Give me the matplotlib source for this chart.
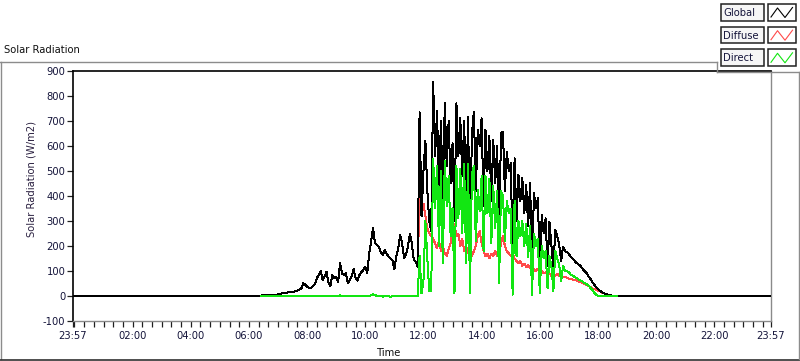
import numpy as np
import matplotlib
matplotlib.use('Agg')
import matplotlib.pyplot as plt
from matplotlib.lines import Line2D
from matplotlib.patches import Rectangle

plt.rcParams['font.family'] = ['DejaVu Sans']
plt.rcParams['font.stretch'] = 'condensed'

# ---------------- data (W/m2), 4-minute samples ----------------
day_start_min = 6 * 60 + 24      # 06:24
step_min = 4

# 06:24 .. 11:48
global_morning = [0, 4, 4, 4, 4, 5, 5, 5, 6, 6,
                  8, 10, 11, 12, 14, 16, 18, 17, 20, 22, 26, 30, 51, 45, 37,
                  33, 31, 40, 48, 71, 85, 100, 64, 78, 97, 53, 40, 84, 70, 77,
                  57, 131, 90, 84, 91, 51, 64, 80, 107, 71, 61, 84, 95, 104, 117,
                  91, 171, 217, 271, 211, 205, 197, 175, 164, 184, 170, 157, 150, 144, 107,
                  157, 190, 244, 211, 151, 164, 200, 248, 211, 144, 137, 117]
diffuse_morning = [0, 4, 4, 4, 4, 5, 5, 5, 6, 6,
                   8, 10, 11, 12, 14, 16, 18, 17, 20, 22, 26, 30, 51, 45, 37,
                   33, 31, 40, 48, 71, 85, 100, 64, 78, 97, 53, 40, 84, 70, 77,
                   57, 131, 90, 84, 91, 51, 64, 80, 107, 71, 61, 84, 95, 104, 117,
                   91, 171, 217, 271, 211, 205, 197, 175, 164, 184, 170, 157, 150, 144, 107,
                   157, 190, 244, 211, 151, 164, 200, 248, 211, 144, 137, 117]
direct_morning = [0, 0, 0, 0, 0, 0, 0, 0, 0, 0,
                  0, 0, 0, 0, 0, 0, 0, 0, 0, 0, 0, 0, 0, 0, 0,
                  0, 0, 0, 0, 0, 0, 0, 0, 0, 0, 0, 0, 0, 0, 0,
                  0, 3, 0, 0, 0, 0, 0, 0, 0, 0, 0, 0, 0, 0, 0,
                  0, 0, 4, 7, 4, 0, -2, 0, -3, 0, -2, 0, -3, 0, -2,
                  0, 0, 2, 0, -2, 0, 0, 0, 2, 0, -1, 0]

# 11:52 .. 17:00
global_midday = [735, 320, 500, 620, 420, 300, 260, 855, 560, 740, 420, 700, 380, 771, 520, 700, 450,
                 611, 300, 771, 560, 711, 480, 700, 330, 717, 220, 650, 737, 420, 664, 600,
                 711, 360, 664, 500, 640, 380, 624, 450, 600, 240, 651, 657, 420, 577, 500,
                 531, 180, 551, 300, 484, 380, 471, 330, 444, 280, 451, 130, 411, 350, 391,
                 110, 324, 250, 311, 120, 297, 200, 110, 264, 240, 204, 140, 197, 180, 175,
                 168]
diffuse_midday = [390, 330, 370, 320, 270, 250, 240, 230, 210, 190, 220, 180, 200, 170, 160, 190, 210,
                  260, 290, 240, 250, 200, 230, 180, 200, 170, 190, 160, 180, 200, 240, 260,
                  210, 180, 160, 170, 150, 170, 160, 180, 160, 170, 210, 240, 200, 180, 170,
                  160, 170, 150, 140, 130, 140, 120, 130, 115, 125, 110, 120, 105, 100, 110,
                  95, 100, 90, 95, 85, 90, 80, 85, 80, 90, 78, 82, 75, 78, 72,
                  70]
direct_midday = [160, 10, 60, 300, 150, 20, 20, 550, 350, 520, 200, 500, 130, 540, 360, 480, 240,
                 351, 10, 520, 310, 510, 250, 530, 130, 530, 10, 490, 520, 220, 424, 340,
                 480, 180, 480, 330, 470, 210, 440, 270, 420, 50, 420, 400, 220, 380, 330,
                 350, 5, 380, 160, 300, 240, 300, 200, 290, 155, 280, 5, 250, 200, 230,
                 10, 200, 150, 180, 30, 160, 120, 20, 180, 150, 126, 58, 120, 102, 100,
                 95]

# 17:04 .. 18:40
global_evening = [155, 150, 140, 132, 126, 120, 110, 100, 93, 80, 70, 57, 46, 35,
                  27, 21, 15, 11, 8, 5, 3, 2, 1, 0, 0]
diffuse_evening = [68, 66, 64, 62, 58, 56, 53, 49, 44, 40, 36, 31, 28, 25,
                   22, 19, 14, 11, 8, 5, 3, 1, 0, 0, 0]
direct_evening = [85, 82, 76, 72, 66, 62, 58, 52, 48, 42, 34, 26, 14, 5,
                  0, 0, 0, 0, 0, 0, 0, 0, 0, 0, 0]

x_tick_labels = ['23:57', '02:00', '04:00', '06:00', '08:00', '10:00', '12:00',
                 '14:00', '16:00', '18:00', '20:00', '22:00', '23:57']
y_ticks = [-100, 0, 100, 200, 300, 400, 500, 600, 700, 800, 900]

series_names = ['Global', 'Diffuse', 'Direct']
series_colors = ['#000000', '#ff4a4a', '#12e612']

# ---------------- assemble ----------------
g = np.array(global_morning + global_midday + global_evening, float)
d = np.array(diffuse_morning + diffuse_midday + diffuse_evening, float)
b = np.array(direct_morning + direct_midday + direct_evening, float)
t = (day_start_min + step_min * np.arange(len(g))) / 60.0

t_lo, t_hi = -3 / 60.0, 24 - 3 / 60.0
tg = np.concatenate([[t_lo], t, [t_hi]])
gg = np.concatenate([[0], g, [0]])

W, H = 800, 361
fig = plt.figure(figsize=(W / 100, H / 100), dpi=100)
fig.patch.set_facecolor('white')


def fx(x):
    return x / W


def fy(y):
    return 1 - y / H


ax = fig.add_axes([fx(73), fy(321), fx(771) - fx(73), fy(71) - fy(321)])
ax.set_facecolor('white')

ax.plot(t, d, color=series_colors[1], lw=0.72, antialiased=False, zorder=2)
ax.plot(tg, gg, color=series_colors[0], lw=0.72, antialiased=False, zorder=3)
ax.plot(t, b, color=series_colors[2], lw=0.72, antialiased=False, zorder=4)

ax.set_xlim(t_lo, t_hi)
ax.set_ylim(-100, 900)

major = [t_lo] + list(range(2, 24, 2)) + [t_hi]
ax.set_xticks(major)
ax.set_xticklabels(x_tick_labels)
ax.set_xticks(np.arange(0, 24, 1 / 3), minor=True)
ax.set_yticks(y_ticks)
ax.set_yticklabels([str(v) for v in y_ticks])

txtc = '#14143a'
ax.tick_params(axis='both', which='both', direction='out', color='#202020',
               labelcolor=txtc, labelsize=8, width=0.9)
ax.tick_params(axis='x', which='both', length=4, pad=3)
ax.tick_params(axis='y', which='major', length=4, pad=1.5)

for side in ['left', 'top']:
    ax.spines[side].set_color('black')
    ax.spines[side].set_linewidth(1.2)
for side in ['right', 'bottom']:
    ax.spines[side].set_color('#8a8a8a')
    ax.spines[side].set_linewidth(1.0)

fig.text(fx(32), fy(179), 'Solar Radiation (W/m2)', rotation=90,
         ha='center', va='center', fontsize=8, color='#2a2040')
fig.text(fx(4), fy(50), 'Solar Radiation', ha='left', va='center',
         fontsize=8, color='#101010')
fig.text(fx(377), fy(353), 'Time', ha='left', va='center', fontsize=8,
         color='#101010')

# outer panel frame
frame_c = '#8c8c8c'
fig.add_artist(Line2D([fx(0), fx(717)], [fy(62), fy(62)], color=frame_c, lw=1))
fig.add_artist(Line2D([fx(0.5), fx(0.5)], [fy(62), fy(359)], color=frame_c, lw=1))
fig.add_artist(Line2D([fx(0), fx(800)], [fy(359.5), fy(359.5)], color='#303030', lw=1.2))
fig.add_artist(Line2D([fx(799), fx(799)], [fy(72), fy(359)], color=frame_c, lw=1))
fig.add_artist(Line2D([fx(717), fx(717)], [fy(62), fy(72)], color=frame_c, lw=1))
fig.add_artist(Line2D([fx(717), fx(800)], [fy(72), fy(72)], color=frame_c, lw=1))

# legend
row_tops = [4, 26.7, 49.3]
row_h = 16.7
for name, col, top in zip(series_names, series_colors, row_tops):
    fig.add_artist(Rectangle((fx(720.5), fy(top + row_h)), fx(763.5) - fx(720.5),
                             fy(top) - fy(top + row_h), facecolor='#f6f6f6',
                             edgecolor='#202020', lw=1.1))
    fig.text(fx(723), fy(top + row_h / 2 + 0.5), name, ha='left', va='center',
             fontsize=8, color=txtc)
    fig.add_artist(Rectangle((fx(768), fy(top + row_h)), fx(795.5) - fx(768),
                             fy(top) - fy(top + row_h), facecolor='white',
                             edgecolor='#202020', lw=1.1))
    zx = [771, 777.5, 785, 792.5]
    zy = [top + 13, top + 4, top + 13.5, top + 3.5]
    fig.add_artist(Line2D([fx(v) for v in zx], [fy(v) for v in zy], color=col, lw=0.8))

fig.savefig('out.png', dpi=100, facecolor='white')
